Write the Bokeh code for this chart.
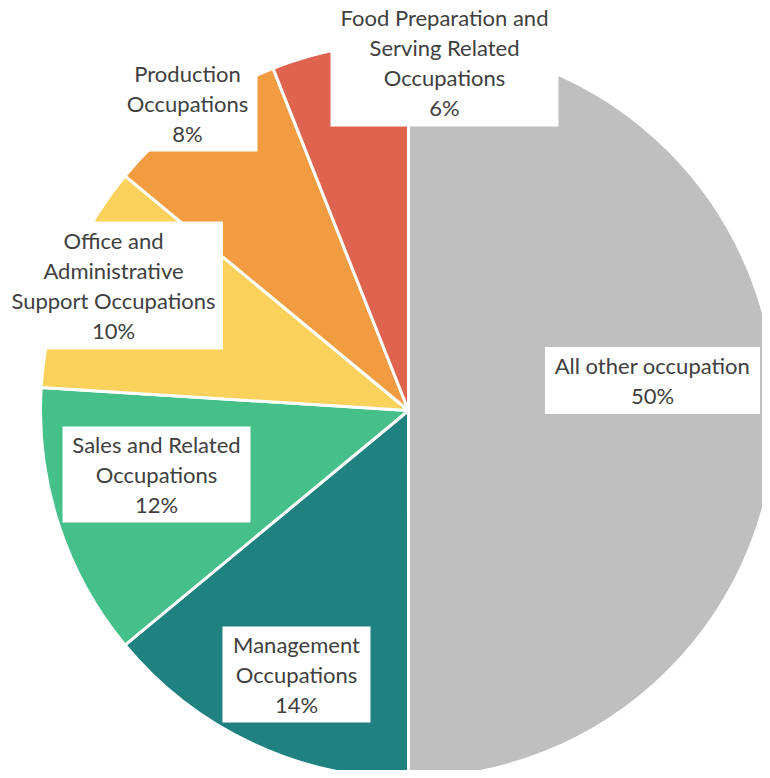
import numpy as np
from bokeh.plotting import figure
from bokeh.models import ColumnDataSource, Range1d
from bokeh.core.properties import value
from bokeh.embed import file_html
from bokeh.resources import INLINE

# ---- data ----
categories = ["All other occupation", "Management Occupations",
              "Sales and Related Occupations",
              "Office and Administrative Support Occupations",
              "Production Occupations",
              "Food Preparation and Serving Related Occupations"]
shares = [50, 14, 12, 10, 8, 6]
colors = ["#BFBFBF", "#1F8280", "#45C08A", "#F9D15B", "#F19C41", "#DE6450"]
label_lines = ["All other occupation",
               "Management\nOccupations",
               "Sales and Related\nOccupations",
               "Office and\nAdministrative\nSupport Occupations",
               "Production\nOccupations",
               "Food Preparation and\nServing Related\nOccupations"]

# ---- layout (screen-pixel frame of the picture) ----
CX, CY, R = 408, 410, 368
label_cx = [652, 296, 156, 113, 187, 444]
label_cy = [380, 674, 474, 285, 103, 62]
box_w = [215, 148, 188, 219, 140, 228]
box_h = [67, 96, 96, 128, 96, 128]

total = float(sum(shares))
cum = np.cumsum([0] + shares) / total
start = [np.pi / 2 - 2 * np.pi * c for c in cum[:-1]]
end = [np.pi / 2 - 2 * np.pi * c for c in cum[1:]]

wedges = ColumnDataSource(dict(cat=categories, start=start, end=end, color=colors,
                               x=[CX] * len(shares), y=[-CY] * len(shares)))

labels = ColumnDataSource(dict(
    x=label_cx, y=[-v for v in label_cy],
    w=box_w, h=box_h,
    text=[f"{t}\n{s}%" for t, s in zip(label_lines, shares)]))

p = figure(width=762, height=770, output_backend="svg", toolbar_location=None,
           x_range=Range1d(0, 762), y_range=Range1d(-770, 0),
           min_border=0, outline_line_color=None)
p.axis.visible = False
p.grid.visible = False
p.background_fill_color = "white"
p.border_fill_color = "white"

p.wedge(x="x", y="y", radius=R, start_angle="start", end_angle="end",
        direction="clock", fill_color="color", line_color="white",
        line_width=3, source=wedges)

p.rect(x="x", y="y", width="w", height="h", width_units="screen",
       height_units="screen", fill_color="white", line_color=None, source=labels)

p.text(x="x", y="y", text="text", source=labels, text_align="center",
       text_baseline="middle", text_font=value("Lato"), text_font_size="22px",
       text_color="#404040", text_line_height=1.11)

open("out.html", "w").write(file_html(p, INLINE))
